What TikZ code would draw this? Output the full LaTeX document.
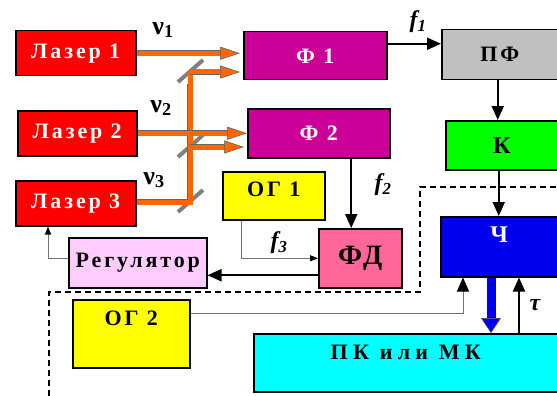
\documentclass[tikz,border=0pt]{standalone}
\usepackage{fontspec}
\setmainfont{Liberation Serif}
\newfontfamily\boxfont{Liberation Serif}[LetterSpace=13]
\newfontfamily\widefont{Liberation Serif}[LetterSpace=24]
\usetikzlibrary{arrows.meta,positioning,calc}
\definecolor{laserred}{RGB}{255,0,0}
\definecolor{fmagenta}{RGB}{204,0,153}
\definecolor{pfgray}{RGB}{192,192,192}
\definecolor{kgreen}{RGB}{0,255,0}
\definecolor{chblue}{RGB}{0,0,240}
\definecolor{fdpink}{RGB}{255,102,153}
\definecolor{regpink}{RGB}{255,204,255}
\definecolor{ogyellow}{RGB}{255,255,0}
\definecolor{pkcyan}{RGB}{0,255,255}
\definecolor{beamorange}{RGB}{255,102,0}
\definecolor{mirrorgray}{RGB}{128,128,128}
\tikzset{
  blk/.style={draw, line width=1.5pt, fill=#1, anchor=north west, inner sep=0pt,
              font=\boxfont\bfseries\fontsize{22}{24}\selectfont},
  toptxt/.style={anchor=north, inner sep=0pt, font=\boxfont\bfseries\fontsize{22}{24}\selectfont},
  beam/.style={draw=beamorange, line width=5pt,
               preaction={draw=black!60, line width=6.4pt, -, shorten >=12pt}},
  beamarr/.style={beam, -{Triangle[length=20pt,width=13pt,fill=beamorange,color=black!60,line width=0.6pt]}},
  arr/.style={line width=2pt, -{Triangle[length=14pt,width=12pt]}},
  thinln/.style={draw=black!55, line width=1pt},
  thinarr/.style={thinln, -{Triangle[length=8pt,width=6pt,color=black]}},
  bigtip/.style={thinln, -{Triangle[length=14pt,width=12pt,color=black]}},
  bluearr/.style={draw=chblue, line width=9pt,
                  -{Triangle[length=15pt,width=20pt,fill=chblue,color=black!70,line width=0.6pt]}},
  mirror/.style={draw=mirrorgray, line width=4pt},
  nulbl/.style={font=\bfseries\fontsize{26}{26}\selectfont},
  flbl/.style={font=\bfseries\itshape\fontsize{24}{24}\selectfont},
}
\begin{document}
\begin{tikzpicture}[x=1pt, y=-1pt]
\useasboundingbox (0,0) rectangle (557,396);

% Frame of the digital part
\draw[dash pattern=on 6pt off 4pt, line width=1.5pt] (49,396) -- (49,292) -- (420,292) -- (420,187) -- (557,187);

% Lasers
\node[blk=laserred, minimum width=120pt, minimum height=45pt, text=white] (las1) at (15,30) {Лазер 1};
\node[blk=laserred, minimum width=119pt, minimum height=45pt, text=white] (las2) at (17,110) {Лазер 2};
\node[blk=laserred, minimum width=120pt, minimum height=45pt, text=white] (las3) at (15,180) {Лазер 3};

% Photodetectors and filters
\node[blk=fmagenta, minimum width=143pt, minimum height=48pt, text=white] (f1) at (243,31) {Ф 1};
\node[blk=fmagenta, minimum width=142pt, minimum height=49pt, text=white] (f2) at (247,108) {Ф 2};
\node[blk=pfgray, minimum width=116pt, minimum height=50pt] (pf) at (441,29) {ПФ};
\node[blk=kgreen, minimum width=112pt, minimum height=49pt,
      font=\boxfont\bfseries\fontsize{24}{26}\selectfont] (kk) at (445,120) {К};

% Reference generators and phase detector
\node[blk=ogyellow, minimum width=102pt, minimum height=48pt,
      label={[toptxt, yshift=-11pt]north:ОГ 1}] (og1) at (222,171) {};
\node[blk=fdpink, minimum width=83pt, minimum height=59pt,
      font=\boxfont\bfseries\fontsize{28}{30}\selectfont] (fd) at (318,228) {ФД};
\node[blk=regpink, minimum width=138pt, minimum height=50pt] (reg) at (68,237) {Регулятор};
\node[blk=ogyellow, minimum width=117pt, minimum height=68pt,
      label={[toptxt, yshift=-12pt]north:ОГ 2}] (og2) at (72,299) {};

% Counter and computer
\node[blk=chblue, minimum width=117pt, minimum height=60pt,
      label={[toptxt, text=white, yshift=-11pt, font=\boxfont\bfseries\fontsize{24}{26}\selectfont]north:Ч}] (ch) at (440,216) {};
\node[blk=pkcyan, minimum width=304pt, minimum height=58pt,
      label={[toptxt, yshift=-12pt, font=\widefont\bfseries\fontsize{22}{24}\selectfont]north:ПК или МК}] (pk) at (253,333) {};

% Beam splitters
\coordinate (m1) at (190,72);
\coordinate (m2) at (190,147);
\coordinate (m3) at (190,202);
\foreach \m in {m1,m2,m3}
  \draw[mirror, shift={(\m)}] (-12,10) -- (13,-12);

% Laser beams
\draw[beam, preaction={shorten >=0pt}] (las3.east |- m3) -- (m3) -- (m1);
\draw[beamarr] (las1.east) -- ([xshift=-3pt]las1.east -| f1.west);
\draw[beamarr] (las2.east) -- (las2.east -| f2.west);
\draw[beamarr] (m1) -- ([xshift=-3pt]m1 -| f1.west);
\draw[beamarr] (m2) -- ([xshift=-3pt]m2 -| f2.west);
\node[nulbl] (nu1) at (163,30) {ν\textsubscript{1}};
\node[nulbl] (nu2) at (161,108) {ν\textsubscript{2}};
\node[nulbl] (nu3) at (154,180) {ν\textsubscript{3}};

% Signal path
\draw[arr] ([yshift=12pt]f1.east) -- ([yshift=12pt]f1.east -| pf.west);
\draw[arr] ([xshift=-2pt]pf.south) -- ([xshift=-2pt]pf.south |- kk.north);
\draw[arr] ([xshift=-3pt]kk.south) -- ([xshift=-3pt]kk.south |- ch.north);
\draw[arr] ([xshift=-9pt]fd.north |- f2.south) -- ([xshift=-9pt]fd.north);
\draw[thinarr] ([xshift=19pt]og1.south west) |- (fd.west);
\draw[arr] ([yshift=-17pt]fd.west) -- ([yshift=-17pt]fd.west -| reg.east);
\draw[thinarr] ([yshift=4pt]reg.west) -| ([xshift=33pt]las3.south west);
\draw[bigtip] ([yshift=-14pt]og2.north east) -| ([xshift=23pt]ch.south west);
\draw[bluearr] ([xshift=51pt]ch.south west) -- ([xshift=51pt]ch.south west |- pk.north);
\draw[arr] ([xshift=79pt]ch.south west |- pk.north) -- ([xshift=79pt]ch.south west);
\node[flbl] (lf1) at (418,22) {f\textsubscript{1}};
\node[flbl] (lf2) at (383,185) {f\textsubscript{2}};
\node[flbl] (lf3) at (279,243) {f\textsubscript{3}};
\node[flbl] (ltau) at (535,305) {τ};
\end{tikzpicture}
\end{document}
